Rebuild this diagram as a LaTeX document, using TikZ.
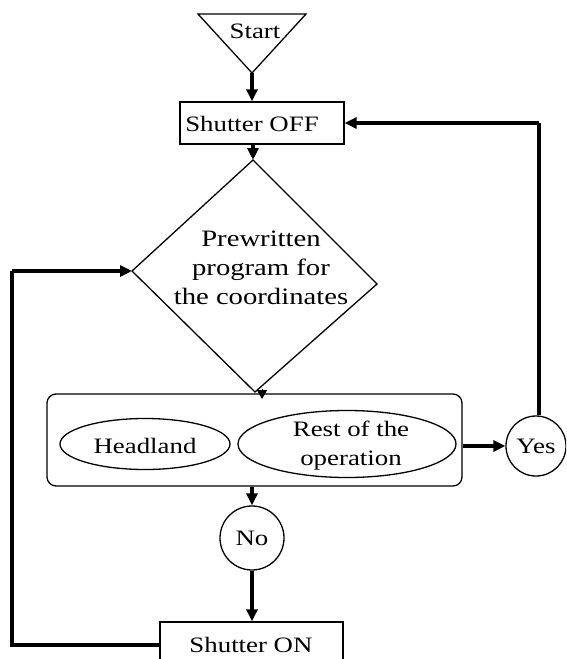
\documentclass[tikz,border=0pt]{standalone}
\usepackage{fontspec}
\setmainfont[FakeStretch=1.22]{Liberation Serif}
\usetikzlibrary{arrows.meta,shapes.geometric}
\begin{document}
\begin{tikzpicture}[x=1pt,y=-1pt,
  thin line/.style={line width=1.3pt},
  txt/.style={font=\fontsize{22}{29}\selectfont, align=center, inner sep=0pt},
  arr/.style={line width=3.4pt, -{Triangle[length=12pt,width=11pt]}},
  conn/.style={line width=3.4pt},
  boxshape/.style={draw, thin line, rectangle, inner sep=0pt},
  oval/.style={draw, thin line, ellipse, inner sep=0pt},
  circ/.style={draw, thin line, circle, inner sep=0pt}]
\useasboundingbox (0,0) rectangle (566,659);
\clip (0,0) rectangle (566,659);
% start triangle
\coordinate (t1) at (198,14);
\coordinate (t2) at (306,14);
\coordinate (tapex) at (252,73);
\draw[thin line, line join=miter] (t1) -- (t2) -- (tapex) -- cycle;
\node[txt] (start) at (255,31) {Start};
% shutter off
\node[boxshape, minimum width=164pt, minimum height=42pt] (off) at (262,123) {};
\node[txt] (offt) at (252,124) {Shutter OFF};
% diamond
\coordinate (dtop) at (253,160);
\coordinate (dright) at (377,284);
\coordinate (dbot) at (255,392);
\coordinate (dleft) at (132,271);
\draw[thin line] (dtop) -- (dright) -- (dbot) -- (dleft) -- cycle;
\node[txt, font=\fontsize{23.5}{29}\selectfont] (prog) at (261,268) {Prewritten\\program for\\the coordinates};
% rounded box
\node[draw, thin line, rounded corners=9pt, minimum width=415pt, minimum height=92pt, inner sep=0pt] (grp) at (254.5,440) {};
\node[oval, minimum width=170pt, minimum height=51pt] (head) at (145,444) {};
\node[txt] (headt) at (145,446) {Headland};
\node[oval, minimum width=218pt, minimum height=67pt] (rest) at (347,444) {};
\node[txt] (restt) at (351,446) {Rest of the\\operation};
% yes / no
\node[circ, minimum size=60pt] (yes) at (536,446) {};
\node[txt] (yest) at (536,446) {Yes};
\node[circ, minimum size=64pt] (no) at (252,538) {};
\node[txt] (not) at (252,538) {No};
% shutter on
\node[boxshape, minimum width=183pt, minimum height=50pt] (on) at (251.5,647) {};
\node[txt] (ont) at (251,645) {Shutter ON};
% connectors
\draw[arr] (tapex) -- (tapex |- off.north);
\draw[arr] (off.south -| dtop) -- (dtop);
\coordinate (small1) at (262,389);
\coordinate (small2) at (262,399);
\draw[line width=1pt, -{Triangle[length=9pt,width=10pt]}] (small1) -- (small2);
\draw[arr] (grp.east |- yes) -- (yes.west);
\coordinate (yup) at (539,123);
\draw[conn] (yes.north -| yup) -- (yup);
\draw[arr] (yup) -- (off.east |- yup);
\draw[arr] (grp.south -| no) -- (no.north);
\draw[arr] (no.south) -- (on.north -| no);
\coordinate (lb) at (12,645);
\coordinate (lt) at (12,271);
\draw[conn, line join=miter] (on.west |- lb) -- (lb) -- (lt);
\draw[arr] (lt) -- (dleft);
\end{tikzpicture}
\end{document}
